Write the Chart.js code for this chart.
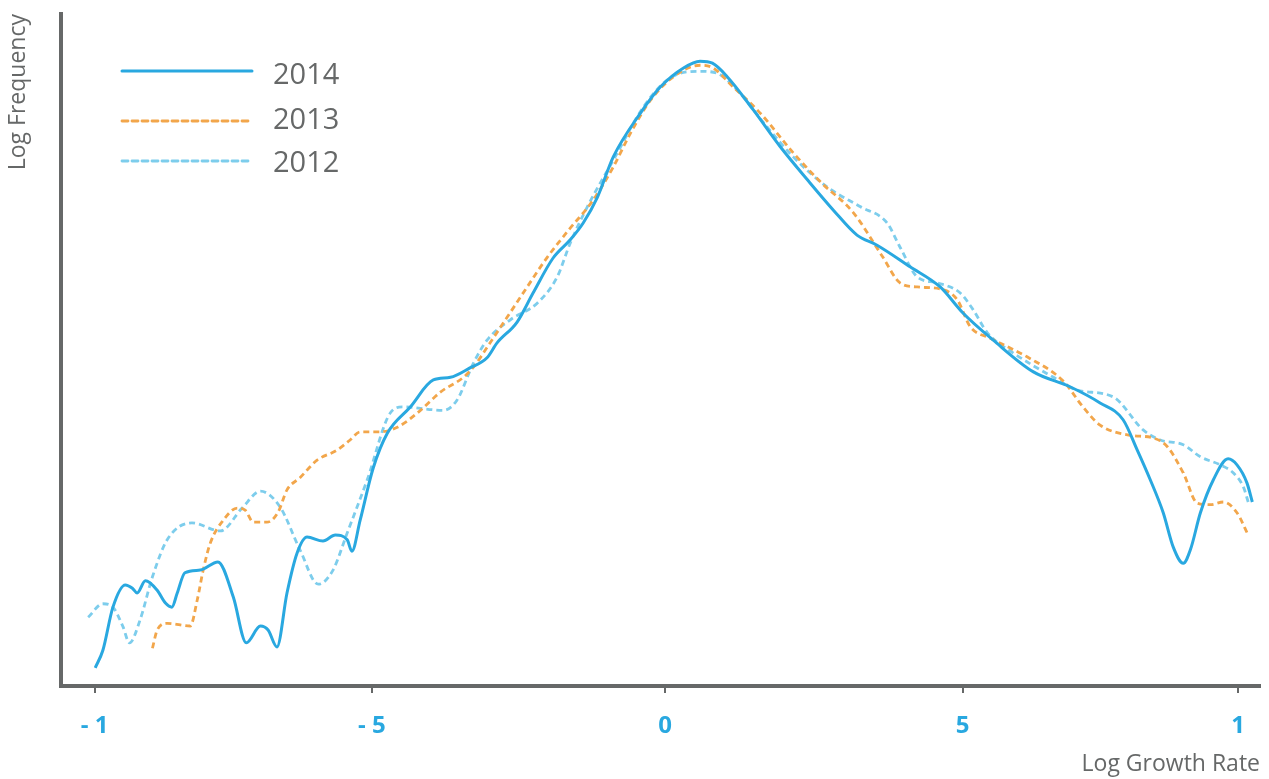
<!DOCTYPE html>
<html>
<head>
<meta charset="utf-8">
<script src="https://cdn.jsdelivr.net/npm/chart.js@4"></script>
<style>
  html, body { margin: 0; padding: 0; background: #fff; }
  #wrap { width: 1269px; height: 779px; }
</style>
</head>
<body>
<div id="wrap"><canvas id="growthChart" width="1269" height="779"></canvas></div>
<script>
// x = log growth rate, y = log frequency (relative units, 0-100)
const x2014 = [-0.966, -0.953, -0.936, -0.915, -0.903, -0.895, -0.881, -0.861, -0.847, -0.836, -0.827, -0.814, -0.788, -0.758, -0.732, -0.710, -0.686, -0.673, -0.658, -0.641, -0.624, -0.607, -0.580, -0.559, -0.539, -0.531, -0.517, -0.495, -0.471, -0.432, -0.393, -0.364, -0.331, -0.302, -0.285, -0.251, -0.224, -0.190, -0.161, -0.139, -0.115, -0.088, -0.042, -0.008, 0.031, 0.059, 0.080, 0.105, 0.149, 0.195, 0.241, 0.285, 0.325, 0.359, 0.415, 0.466, 0.505, 0.556, 0.624, 0.686, 0.737, 0.776, 0.800, 0.822, 0.844, 0.861, 0.878, 0.890, 0.907, 0.929, 0.954, 0.969, 0.986, 0.995];
const y2014 = [3.0, 5.6, 12.0, 15.3, 14.8, 14.1, 15.9, 14.5, 12.6, 12.0, 14.1, 17.1, 17.5, 18.7, 13.5, 6.7, 9.2, 8.6, 6.1, 14.1, 20.0, 22.4, 21.8, 22.7, 22.0, 20.3, 24.9, 32.6, 37.8, 41.7, 45.7, 46.1, 47.5, 49.0, 51.2, 54.3, 58.6, 63.8, 66.5, 69.0, 72.8, 78.8, 85.3, 89.2, 92.0, 93.0, 92.7, 90.7, 85.8, 80.3, 75.4, 70.9, 67.2, 65.7, 62.5, 59.5, 55.6, 51.6, 46.9, 44.7, 42.3, 39.8, 35.3, 30.9, 26.0, 20.9, 18.5, 20.5, 26.0, 30.9, 34.0, 33.1, 30.4, 27.6];

const x2013 = [-0.869, -0.861, -0.844, -0.805, -0.793, -0.783, -0.771, -0.749, -0.725, -0.712, -0.698, -0.675, -0.656, -0.641, -0.619, -0.590, -0.556, -0.534, -0.517, -0.483, -0.454, -0.420, -0.381, -0.342, -0.325, -0.297, -0.268, -0.234, -0.200, -0.166, -0.122, -0.088, -0.059, -0.025, 0.014, 0.059, 0.081, 0.115, 0.161, 0.217, 0.263, 0.319, 0.369, 0.398, 0.427, 0.471, 0.495, 0.517, 0.551, 0.614, 0.675, 0.708, 0.737, 0.788, 0.827, 0.851, 0.878, 0.902, 0.924, 0.946, 0.969, 0.988];
const y2013 = [5.9, 8.6, 9.6, 9.2, 13.1, 17.5, 21.5, 24.9, 26.7, 26.4, 24.6, 24.6, 26.1, 29.4, 31.2, 33.8, 35.3, 36.8, 38.0, 38.0, 38.7, 40.8, 43.9, 46.1, 47.6, 51.2, 55.0, 59.5, 63.9, 67.7, 72.4, 77.3, 82.3, 87.2, 90.7, 92.4, 92.0, 89.2, 85.3, 79.4, 75.1, 70.5, 63.9, 60.1, 59.5, 59.1, 57.6, 53.6, 51.9, 49.1, 45.5, 41.7, 39.0, 37.5, 37.1, 35.8, 31.9, 27.4, 27.2, 27.6, 26.0, 22.7];

const x2012 = [-0.978, -0.953, -0.936, -0.919, -0.908, -0.890, -0.869, -0.844, -0.802, -0.754, -0.717, -0.686, -0.653, -0.619, -0.588, -0.563, -0.539, -0.505, -0.466, -0.444, -0.376, -0.353, -0.325, -0.302, -0.263, -0.217, -0.183, -0.161, -0.132, -0.088, -0.037, 0.008, 0.059, 0.088, 0.122, 0.173, 0.217, 0.275, 0.331, 0.376, 0.398, 0.427, 0.461, 0.500, 0.522, 0.546, 0.590, 0.658, 0.698, 0.759, 0.810, 0.839, 0.878, 0.907, 0.941, 0.963, 0.980, 0.988];
const y2012 = [10.5, 12.5, 12.0, 9.1, 6.7, 10.1, 16.5, 22.0, 24.5, 23.3, 26.7, 29.2, 26.9, 20.5, 15.4, 17.5, 23.0, 30.9, 40.8, 41.7, 41.2, 42.7, 48.2, 51.6, 54.6, 57.1, 61.0, 66.0, 71.4, 78.3, 86.2, 90.5, 91.5, 91.2, 88.7, 83.2, 78.8, 74.3, 71.4, 69.0, 65.4, 61.0, 60.1, 58.6, 56.1, 52.7, 49.7, 46.1, 44.2, 43.2, 38.3, 36.8, 36.1, 34.3, 33.1, 31.9, 29.8, 27.6];

const tickValues = [-0.967, -0.497, 0, 0.504, 0.971];
const tickLabels = ['- 1', '- 5', '0', '5', '1'];

function toPoints(xs, ys) {
    return xs.map((x, i) => ({ x: x, y: ys[i] }));
}

const GREY = '#666868';
const FONT = "'Open Sans', sans-serif";

// legend drawn inside the plot, top left
const innerLegend = {
    id: 'innerLegend',
    afterDatasetsDraw(chart) {
        const ctx = chart.ctx;
        const lineY = [71, 121, 161];
        const textY = [76, 121, 164];
        ctx.save();
        chart.data.datasets.forEach((ds, i) => {
            ctx.beginPath();
            ctx.setLineDash(ds.borderDash || []);
            ctx.lineWidth = ds.borderWidth;
            ctx.lineCap = 'round';
            ctx.strokeStyle = ds.borderColor;
            ctx.moveTo(122, lineY[i]);
            ctx.lineTo(i === 0 ? 252 : 249, lineY[i]);
            ctx.stroke();
            ctx.setLineDash([]);
            ctx.fillStyle = GREY;
            ctx.font = "29px " + FONT;
            ctx.textBaseline = 'middle';
            ctx.fillText(ds.label, 273, textY[i]);
        });
        ctx.restore();
    }
};

document.addEventListener('DOMContentLoaded', function() {
    const ctx = document.getElementById('growthChart').getContext('2d');
    new Chart(ctx, {
        type: 'line',
        data: {
            datasets: [{
                label: '2014',
                data: toPoints(x2014, y2014),
                borderColor: '#29a8e0',
                borderWidth: 3,
                pointRadius: 0,
                cubicInterpolationMode: 'monotone',
                order: 0
            }, {
                label: '2013',
                data: toPoints(x2013, y2013),
                borderColor: '#f2a64b',
                borderWidth: 2.8,
                borderDash: [6, 4],
                pointRadius: 0,
                cubicInterpolationMode: 'monotone',
                order: 1
            }, {
                label: '2012',
                data: toPoints(x2012, y2012),
                borderColor: '#7dcdec',
                borderWidth: 2.8,
                borderDash: [6, 4],
                pointRadius: 0,
                cubicInterpolationMode: 'monotone',
                order: 2
            }]
        },
        options: {
            responsive: false,
            animation: false,
            layout: { padding: { top: 14, right: 9, bottom: 0, left: 0 } },
            plugins: {
                legend: { display: false },
                tooltip: { enabled: false }
            },
            scales: {
                x: {
                    type: 'linear',
                    min: -1.024,
                    max: 1.008,
                    afterBuildTicks: (scale) => {
                        scale.ticks = tickValues.map(v => ({ value: v }));
                    },
                    afterFit: (scale) => { scale.height = 93; },
                    ticks: {
                        autoSkip: false,
                        maxRotation: 0,
                        padding: 19,
                        color: '#29a8e0',
                        font: { family: FONT, size: 24, weight: 'bold' },
                        callback: (v, i) => tickLabels[i]
                    },
                    grid: {
                        drawOnChartArea: false,
                        drawTicks: true,
                        tickLength: 7,
                        color: GREY,
                        lineWidth: 2
                    },
                    border: { color: GREY, width: 4 },
                    title: {
                        display: true,
                        text: 'Log Growth Rate',
                        align: 'end',
                        color: GREY,
                        font: { family: FONT, size: 23 },
                        padding: { top: 0, bottom: 1 }
                    }
                },
                y: {
                    min: 0.3,
                    max: 100,
                    afterFit: (scale) => { scale.width = 61; },
                    ticks: { display: false },
                    grid: { drawOnChartArea: false, drawTicks: false },
                    border: { color: GREY, width: 4 },
                    title: {
                        display: true,
                        text: 'Log Frequency',
                        align: 'end',
                        color: GREY,
                        font: { family: FONT, size: 23 },
                        padding: { top: 5, bottom: 0 }
                    }
                }
            }
        },
        plugins: [innerLegend]
    });
});
</script>
</body>
</html>
